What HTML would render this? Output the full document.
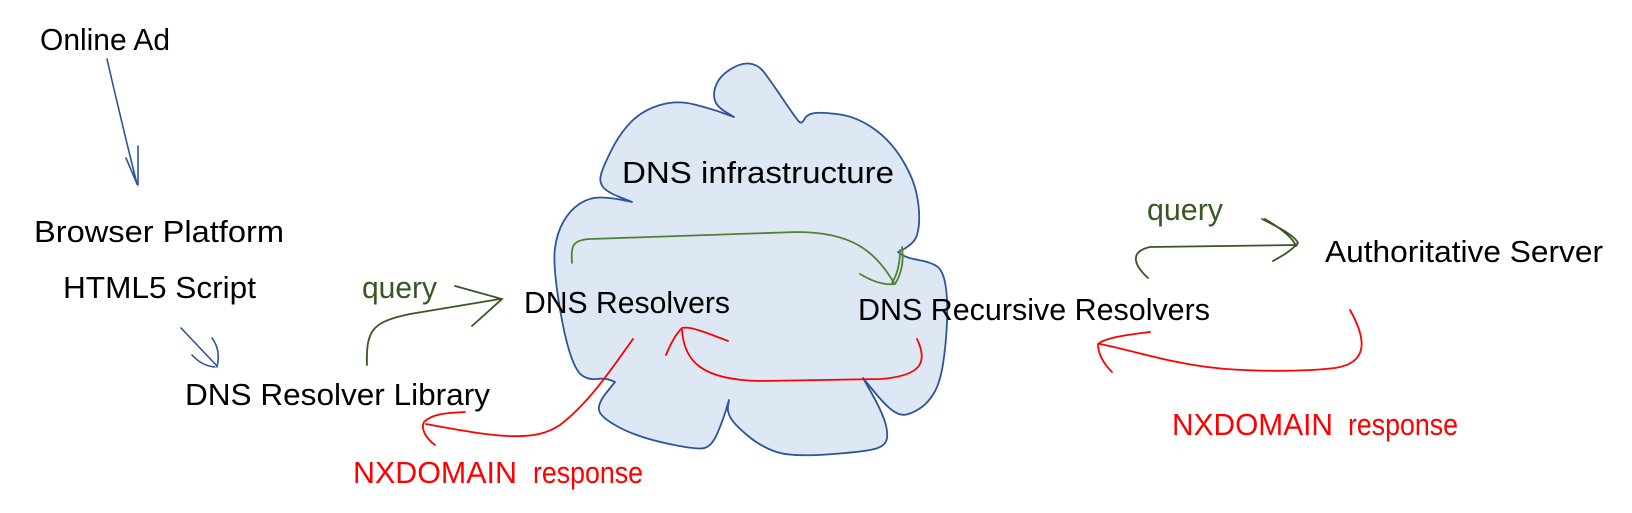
<!DOCTYPE html>
<html>
<head>
<meta charset="utf-8">
<style>
  html, body { margin: 0; padding: 0; background: #ffffff; }
  body { width: 1632px; height: 513px; overflow: hidden; }
  svg { display: block; }
  text { font-family: "Liberation Sans", "DejaVu Sans", sans-serif; font-size: 31px; fill: #000; }
  .g { fill: #385723; }
  .r { fill: #ff0000; }
</style>
</head>
<body>
<svg width="1632" height="513" viewBox="0 0 1632 513" xmlns="http://www.w3.org/2000/svg">
  <rect x="0" y="0" width="1632" height="513" fill="#ffffff"/>

  <path fill="#dde8f4" stroke="#2e5597" stroke-width="1.8" stroke-linejoin="round" d="M734 117 Q734 117 725 111.5 Q716 106 714.5 99 Q713 92 716.5 84 Q720 76 730 69.5 Q740 63 748.5 63.5 Q757 64 762.5 70.5 Q768 77 782.5 98.5 Q797 120 799.5 122 Q802 124 804.5 119 Q807 114 815 113 Q823 112 840 114.5 Q857 117 873.5 128.5 Q890 140 901.5 158.5 Q913 177 916.5 193.5 Q920 210 919 223.5 Q918 237 913 242 Q908 247 903 249.5 Q898 252 898 252 Q898 252 902.5 255 Q907 258 918.5 260 Q930 262 936.5 266 Q943 270 945.5 285 Q948 300 947 322.5 Q946 345 943 364 Q940 383 934 393 Q928 403 920.5 408 Q913 413 906.5 414.5 Q900 416 892.5 410.5 Q885 405 874 391.5 Q863 378 863 378 Q863 378 871.5 393 Q880 408 884 419 Q888 430 887 438 Q886 446 874.5 449 Q863 452 826.5 454.5 Q790 457 775 451.5 Q760 446 747.5 435.5 Q735 425 731 418.5 Q727 412 728 406 Q729 400 729 400 Q729 400 726 410 Q723 420 717.5 433 Q712 446 704.5 448 Q697 450 667 443.5 Q637 437 618.5 427 Q600 417 599 410 Q598 403 606.5 392.5 Q615 382 615 382 Q615 382 610 380 Q605 378 596.5 379 Q588 380 581.5 375 Q575 370 569 350 Q563 330 558 296.5 Q553 263 555 248 Q557 233 563.5 221.5 Q570 210 580 203.5 Q590 197 601.5 197.5 Q613 198 622.5 200 Q632 202 632 202 Q632 202 619.5 197 Q607 192 603 187 Q599 182 601 174.5 Q603 167 611.5 150 Q620 133 631.5 121.5 Q643 110 660 105 Q677 100 694.5 104.5 Q712 109 723 113 Q734 117 734 117 Z"/>

  <g fill="none" stroke="#2f5597" stroke-width="1.6" stroke-linecap="round">
    <path d="M107 59 Q121 120 137 184"/>
    <path d="M138 146 L138 185"/>
    <path d="M126 158 Q132 172 137 184"/>
    <path d="M181 328 Q200 348 217 366"/>
    <path d="M212 338 Q221 350 217 367"/>
    <path d="M192 355 Q202 366 215 367"/>
  </g>

  <g fill="none" stroke="#385723" stroke-width="1.8" stroke-linecap="round">
    <path d="M367 365 C366 330 372 322 410 314 L500 299"/>
    <path d="M455 286 L502 299 L472 326"/>
    <path d="M1148 278 C1135 266 1128 252 1150 247 L1297 245"/>
    <path d="M1262 219 C1280 228 1295 236 1298 243 C1290 252 1280 257 1273 261"/>
    <path d="M1265 219 C1282 229 1293 238 1296 246"/>
  </g>

  <g fill="none" stroke="#548235" stroke-width="1.8" stroke-linecap="round">
    <path d="M572 263 C571 246 572 240 590 239 L797 232 C850 232 875 250 894 283"/>
    <path d="M860 274 Q880 286 895 284"/>
    <path d="M902 247 Q905 268 895 284"/>
    <path d="M900 250 Q900 270 892 283"/>
  </g>

  <g fill="none" stroke="#ff0000" stroke-width="1.8" stroke-linecap="round">
    <path d="M917 339 C928 362 922 376 880 379 L760 381 C700 380 684 360 682 330"/>
    <path d="M728 341 C705 332 690 326 682 328 C675 335 670 345 666 355"/>
    <path d="M633 339 C612 368 590 402 560 425 C535 442 500 438 426 424"/>
    <path d="M465 412 C445 413 432 414 424 422 C420 430 428 440 435 445"/>
    <path d="M1350 310 C1367 340 1368 363 1335 368 C1300 372 1240 372 1200 366 C1160 360 1130 350 1100 344"/>
    <path d="M1150 332 C1125 335 1105 338 1098 344 C1098 355 1105 365 1112 372"/>
  </g>

  <text x="40" y="50" textLength="130" lengthAdjust="spacingAndGlyphs">Online Ad</text>
  <text x="34" y="242" textLength="250" lengthAdjust="spacingAndGlyphs">Browser Platform</text>
  <text x="63" y="298" textLength="193" lengthAdjust="spacingAndGlyphs">HTML5 Script</text>
  <text x="185" y="405" textLength="305" lengthAdjust="spacingAndGlyphs">DNS Resolver Library</text>
  <text class="g" x="362" y="298" textLength="75" lengthAdjust="spacingAndGlyphs">query</text>
  <text x="524" y="313" textLength="206" lengthAdjust="spacingAndGlyphs">DNS Resolvers</text>
  <text x="622" y="183" textLength="272" lengthAdjust="spacingAndGlyphs">DNS infrastructure</text>
  <text x="858" y="320" textLength="352" lengthAdjust="spacingAndGlyphs">DNS Recursive Resolvers</text>
  <text class="g" x="1147" y="220" textLength="76" lengthAdjust="spacingAndGlyphs">query</text>
  <text x="1325" y="262" textLength="278" lengthAdjust="spacingAndGlyphs">Authoritative Server</text>

  <text class="r" x="353" y="483" font-size="33" textLength="164" lengthAdjust="spacingAndGlyphs">NXDOMAIN</text>
  <text class="r" x="533" y="483" font-size="29" textLength="110" lengthAdjust="spacingAndGlyphs">response</text>
  <text class="r" x="1172" y="435" font-size="33" textLength="161" lengthAdjust="spacingAndGlyphs">NXDOMAIN</text>
  <text class="r" x="1348" y="435" font-size="29" textLength="110" lengthAdjust="spacingAndGlyphs">response</text>
</svg>
</body>
</html>
